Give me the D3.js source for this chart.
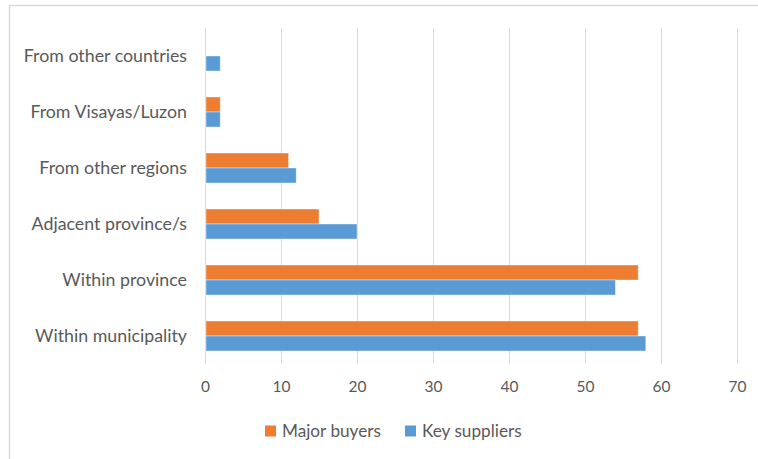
<!DOCTYPE html>
<html>
<head>
<meta charset="utf-8">
<script src="https://cdn.jsdelivr.net/npm/d3@7"></script>
<style>
  html, body { margin: 0; padding: 0; background: #fff; }
  svg { display: block; }
  text { font-family: Lato, "Open Sans", sans-serif; fill: #595959; }
</style>
</head>
<body>
<svg id="chart" width="758" height="459"></svg>
<script>
// Origins, listed bottom to top as they appear on the axis
const categories = [
  "Within municipality",
  "Within province",
  "Adjacent province/s",
  "From other regions",
  "From Visayas/Luzon",
  "From other countries"
];
const seriesNames = ["Major buyers", "Key suppliers"];
const majorBuyers = [57, 57, 15, 11, 2, 0];
const keySuppliers = [58, 54, 20, 12, 2, 2];
const xTicks = [0, 10, 20, 30, 40, 50, 60, 70];
const colors = ["#ED7D31", "#5B9BD5"];

const FONT = "Lato, 'Open Sans', sans-serif";

const svg = d3.select("#chart");

// outer chart frame (only top and left edges fall inside the canvas)
svg.append("rect")
  .attr("x", 9.5).attr("y", 5.5)
  .attr("width", 800).attr("height", 500)
  .attr("fill", "none").attr("stroke", "#D9D9D9").attr("stroke-width", 1.5);

const plot = { left: 205, right: 737, top: 28, bottom: 364 };

const x = d3.scaleLinear().domain([0, 70]).range([plot.left, plot.right]);
const y = d3.scaleBand()
  .domain(categories.slice().reverse())
  .range([plot.top, plot.bottom])
  .paddingInner(0.4643).paddingOuter(0.232);
const sub = d3.scaleBand().domain(seriesNames).range([0, y.bandwidth()]);

// vertical gridlines
svg.append("g")
  .selectAll("line")
  .data(xTicks)
  .join("line")
  .attr("x1", d => Math.round(x(d)) + 0.5)
  .attr("x2", d => Math.round(x(d)) + 0.5)
  .attr("y1", plot.top)
  .attr("y2", plot.bottom)
  .attr("stroke", "#D9D9D9")
  .attr("stroke-width", 1);

// bars
const data = [majorBuyers, keySuppliers];
const groups = svg.append("g")
  .selectAll("g")
  .data(seriesNames)
  .join("g")
  .attr("fill", (d, i) => colors[i]);

groups.selectAll("rect")
  .data((s, si) => categories.map((c, ci) => ({ cat: c, series: s, value: data[si][ci] })))
  .join("rect")
  .filter(d => d.value > 0)
  .attr("x", x(0) + 1)
  .attr("y", d => y(d.cat) + sub(d.series))
  .attr("width", d => x(d.value) - x(0) - 1)
  .attr("height", sub.bandwidth())
  .attr("stroke", "#fff")
  .attr("stroke-opacity", 0.5)
  .attr("stroke-width", 0.75);

// category axis labels
const yAxis = d3.axisLeft(y).tickSize(0).tickPadding(18);
svg.append("g")
  .attr("transform", `translate(${plot.left},0)`)
  .call(yAxis)
  .call(g => g.select(".domain").remove())
  .call(g => g.selectAll("text")
    .attr("font-size", 17.8)
    .attr("fill", "#595959")
    .style("font-family", FONT));

// value axis labels
const xAxis = d3.axisBottom(x).tickValues(xTicks).tickSize(0).tickPadding(17);
svg.append("g")
  .attr("transform", `translate(0,${plot.bottom})`)
  .call(xAxis)
  .call(g => g.select(".domain").remove())
  .call(g => g.selectAll("text")
    .attr("font-size", 15.5)
    .attr("fill", "#595959")
    .style("font-family", FONT));

// legend
const legendItems = [
  { name: seriesNames[0], color: colors[0], x: 265 },
  { name: seriesNames[1], color: colors[1], x: 405 }
];
const legend = svg.append("g").selectAll("g")
  .data(legendItems)
  .join("g")
  .attr("transform", d => `translate(${d.x},431)`);
legend.append("rect")
  .attr("x", 0).attr("y", -5.5)
  .attr("width", 11).attr("height", 11)
  .attr("fill", d => d.color);
legend.append("text")
  .attr("x", 17).attr("y", 0)
  .attr("dy", "0.35em")
  .attr("font-size", 17.2)
  .style("font-family", FONT)
  .text(d => d.name);
</script>
</body>
</html>
